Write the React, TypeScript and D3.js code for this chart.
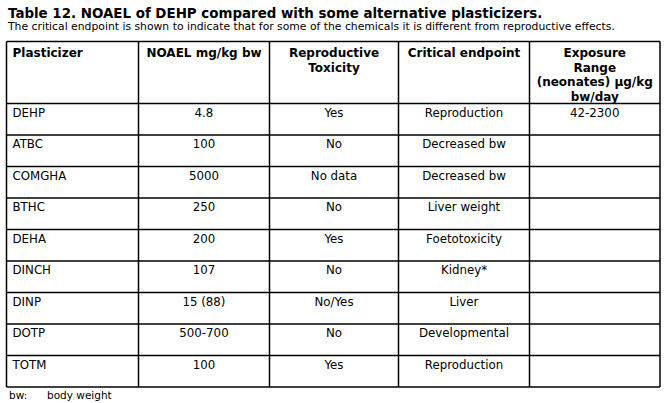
import React, { useEffect, useRef } from 'react';
import * as d3 from 'd3';

// table content
const plasticizers = ['DEHP', 'ATBC', 'COMGHA', 'BTHC', 'DEHA', 'DINCH', 'DINP', 'DOTP', 'TOTM'];
const noael = ['4.8', '100', '5000', '250', '200', '107', '15 (88)', '500-700', '100'];
const reproTox = ['Yes', 'No', 'No data', 'No', 'Yes', 'No', 'No/Yes', 'No', 'Yes'];
const endpoints = ['Reproduction', 'Decreased bw', 'Decreased bw', 'Liver weight', 'Foetotoxicity', 'Kidney*', 'Liver', 'Developmental', 'Reproduction'];
const exposure = ['42-2300', '', '', '', '', '', '', '', ''];
const headers = [
  ['Plasticizer'],
  ['NOAEL mg/kg bw'],
  ['Reproductive', 'Toxicity'],
  ['Critical endpoint'],
  ['Exposure', 'Range', '(neonates) µg/kg', 'bw/day'],
];

const title = 'Table 12. NOAEL of DEHP compared with some alternative plasticizers.';
const subtitle = 'The critical endpoint is shown to indicate that for some of the chemicals it is different from reproductive effects.';
const footnote = ['bw:', 'body weight'];

const width = 665;
const height = 403;
const font = 'Verdana, "DejaVu Sans", sans-serif';

const App = () => {
  const svgRef = useRef<SVGSVGElement>(null);

  useEffect(() => {
    const svg = d3.select(svgRef.current);
    svg.selectAll('*').remove();

    const colEdges = [6.5, 138.5, 269.5, 398.5, 529.5, 660];
    const tableTop = 41.5;
    const headerBottom = 103.5;
    const tableBottom = 387;

    const y = d3.scaleBand<number>()
      .domain(d3.range(plasticizers.length))
      .range([headerBottom, tableBottom])
      .padding(0);

    const columns = [plasticizers, noael, reproTox, endpoints, exposure];

    // title + subtitle
    svg.append('text')
      .attr('x', 8)
      .attr('y', 18)
      .style('font-family', font)
      .style('font-weight', 'bold')
      .style('font-size', '13.4px')
      .attr('fill', '#000')
      .text(title);

    svg.append('text')
      .attr('x', 8)
      .attr('y', 29.5)
      .style('font-family', font)
      .style('font-size', '10.8px')
      .attr('fill', '#000')
      .text(subtitle);

    const grid = svg.append('g')
      .attr('stroke', '#000')
      .attr('stroke-width', 1.5)
      .attr('fill', 'none');

    // horizontal lines
    const hLines = [tableTop, headerBottom, ...d3.range(1, plasticizers.length + 1).map(i => (y(i - 1) as number) + y.bandwidth())];
    grid.selectAll('line.h')
      .data(hLines)
      .join('line')
      .attr('class', 'h')
      .attr('x1', colEdges[0])
      .attr('x2', colEdges[colEdges.length - 1])
      .attr('y1', d => d)
      .attr('y2', d => d);

    // vertical lines
    grid.selectAll('line.v')
      .data(colEdges)
      .join('line')
      .attr('class', 'v')
      .attr('x1', d => d)
      .attr('x2', d => d)
      .attr('y1', tableTop)
      .attr('y2', tableBottom);

    // header
    headers.forEach((lines, c) => {
      const left = c === 0;
      const cx = left ? colEdges[0] + 6 : (colEdges[c] + colEdges[c + 1]) / 2;
      svg.append('g')
        .selectAll('text')
        .data(lines)
        .join('text')
        .attr('x', cx)
        .attr('y', (_, i) => tableTop + 15.5 + i * 14.7)
        .attr('text-anchor', left ? 'start' : 'middle')
        .style('font-family', font)
        .style('font-weight', 'bold')
        .style('font-size', '12px')
        .attr('fill', '#000')
        .text(d => d);
    });

    // body cells
    columns.forEach((col, c) => {
      const left = c === 0;
      const cx = left ? colEdges[0] + 6 : (colEdges[c] + colEdges[c + 1]) / 2;
      svg.append('g')
        .selectAll('text')
        .data(col)
        .join('text')
        .attr('x', cx)
        .attr('y', (_, i) => (y(i) as number) + 13)
        .attr('text-anchor', left ? 'start' : 'middle')
        .style('font-family', font)
        .style('font-size', '11.8px')
        .attr('fill', '#000')
        .text(d => d);
    });

    // footnote
    svg.append('text')
      .attr('x', 9)
      .attr('y', 399)
      .style('font-family', font)
      .style('font-size', '10.5px')
      .attr('fill', '#000')
      .text(footnote[0]);
    svg.append('text')
      .attr('x', 47)
      .attr('y', 399)
      .style('font-family', font)
      .style('font-size', '10.5px')
      .attr('fill', '#000')
      .text(footnote[1]);
  }, []);

  return (
    <svg
      ref={svgRef}
      width={width}
      height={height}
      style={{ position: 'absolute', left: 0, top: 0, background: '#fff' }}
    />
  );
};

export default App;
